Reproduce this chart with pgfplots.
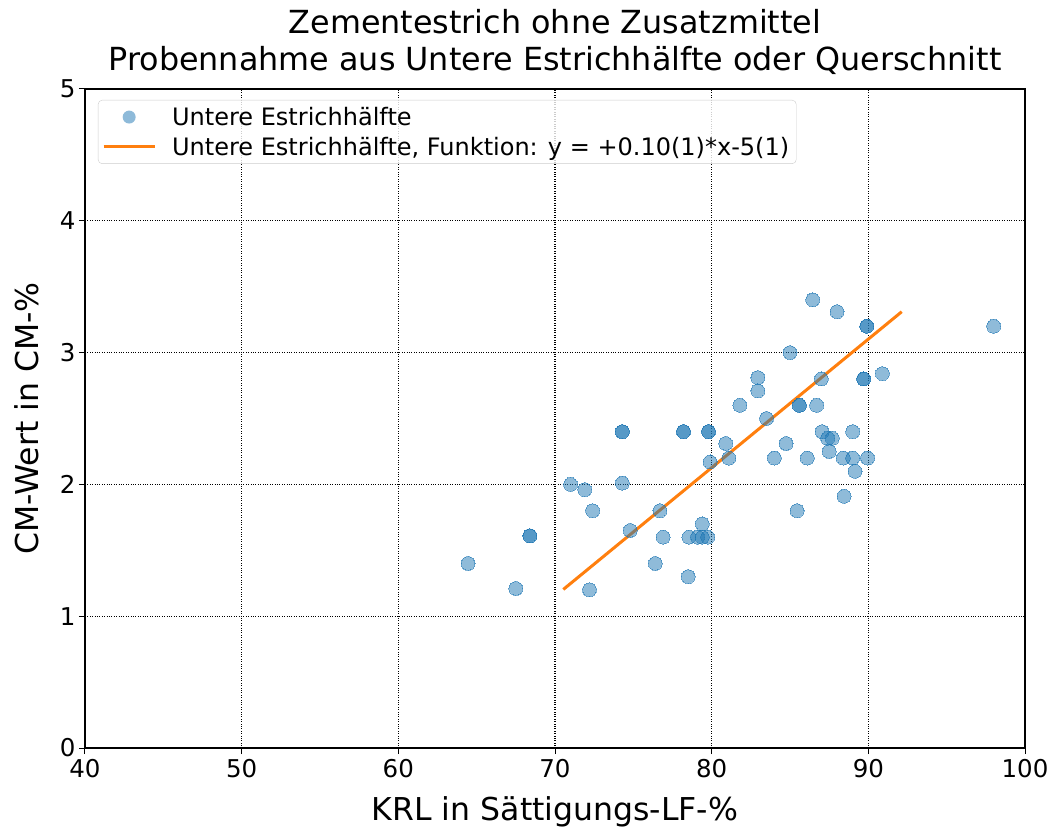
\documentclass[border=0pt]{standalone}
\usepackage{pgfplots}
\pgfplotsset{compat=1.18}
\usepackage{fontspec}
\setmainfont{DejaVu Sans}
\definecolor{c0}{HTML}{1F77B4}
\definecolor{c1}{HTML}{FF7F0E}
\begin{document}
\begin{tikzpicture}
\begin{axis}[
  scale only axis, width=940pt, height=659pt,
  xmin=40, xmax=100, ymin=0, ymax=5,
  xtick={40,50,60,70,80,90,100}, ytick={0,1,2,3,4,5},
  /pgf/number format/assume math mode=true,
  tick label style={font=\fontsize{24.5}{29}\selectfont},
  xticklabel style={yshift=-2pt},
  tick align=outside, major tick length=6pt,
  tick style={black, line width=1pt},
  xtick pos=bottom, ytick pos=left,
  axis line style={line width=1.2pt},
  grid=major, major grid style={black, dotted, line width=1.2pt},
  xlabel={KRL in Sättigungs-LF-\%},
  ylabel={CM-Wert in CM-\%},
  label style={font=\fontsize{31.5}{36}\selectfont},
  xlabel style={at={([yshift=-72pt]axis description cs:0.5,0)}, anchor=base},
  ylabel style={at={([xshift=-58pt]axis description cs:0,0.5)}, anchor=center},
  title={Zementestrich ohne Zusatzmittel\\Probennahme aus Untere Estrichhälfte oder Querschnitt},
  title style={font=\fontsize{31.8}{37}\selectfont, align=center, at={([yshift=8pt]axis description cs:0.5,1)}, anchor=south, inner sep=0pt},
  legend style={at={(0.0138,0.9833)}, anchor=north west, font=\fontsize{24}{29}\selectfont,
    draw=black!20, rounded corners=4pt, fill=white, fill opacity=0.8, text opacity=1,
    inner xsep=4pt, inner ysep=4pt, nodes={inner sep=3pt}, column sep=13pt, row sep=4pt},
  legend cell align=left,
]
\addplot[only marks, mark=*, mark size=7pt, mark options={fill=c0, draw=c0, fill opacity=0.5, draw opacity=0.5, line width=0pt},
  legend image code/.code={\fill[c0, fill opacity=0.5, draw=none] (25.5pt,0pt) circle (6.5pt); \path[draw=none, fill=none] (0pt,0pt) rectangle (51pt,0.1pt);}]
coordinates {
(64.45,1.40) (67.5,1.21) (68.4,1.61) (68.4,1.61) (71.0,2.0) (71.9,1.96) (72.4,1.8) (72.2,1.2)
(74.3,2.01) (74.3,2.4) (74.3,2.4) (74.8,1.65) (76.4,1.4) (76.7,1.8) (76.9,1.6)
(78.2,2.4) (78.2,2.4) (78.5,1.3) (78.55,1.6) (79.1,1.6) (79.4,1.7) (79.4,1.6) (79.75,1.6)
(79.8,2.4) (79.8,2.4) (79.9,2.17) (80.9,2.31) (81.1,2.2) (81.8,2.6) (82.95,2.71) (82.95,2.81)
(83.5,2.5) (84.0,2.2) (84.75,2.31) (85.0,3.0) (85.45,1.8) (85.6,2.6) (85.6,2.6) (86.1,2.2)
(86.45,3.40) (86.7,2.6) (87.0,2.8) (87.05,2.4) (87.4,2.35) (87.5,2.25) (87.7,2.35) (88.0,3.31)
(88.4,2.2) (88.45,1.91) (89.0,2.4) (89.0,2.2) (89.15,2.1) (89.7,2.8) (89.7,2.8)
(89.9,3.2) (89.9,3.2) (89.95,2.2) (90.9,2.84) (98.0,3.2)
};
\addlegendentry{Untere Estrichhälfte}
\addplot[c1, line width=3pt, no marks,
  legend image code/.code={\draw[c1, line width=3pt] (0pt,0pt) -- (51pt,0pt);}]
  coordinates {(70.53,1.203) (92.13,3.31)};
\addlegendentry{Untere Estrichhälfte, Funktion: y = +0.10(1)*x-5(1)}
\end{axis}
\pgfresetboundingbox
\path (-85pt,-82pt) rectangle (970pt,748pt);
\end{tikzpicture}
\end{document}
